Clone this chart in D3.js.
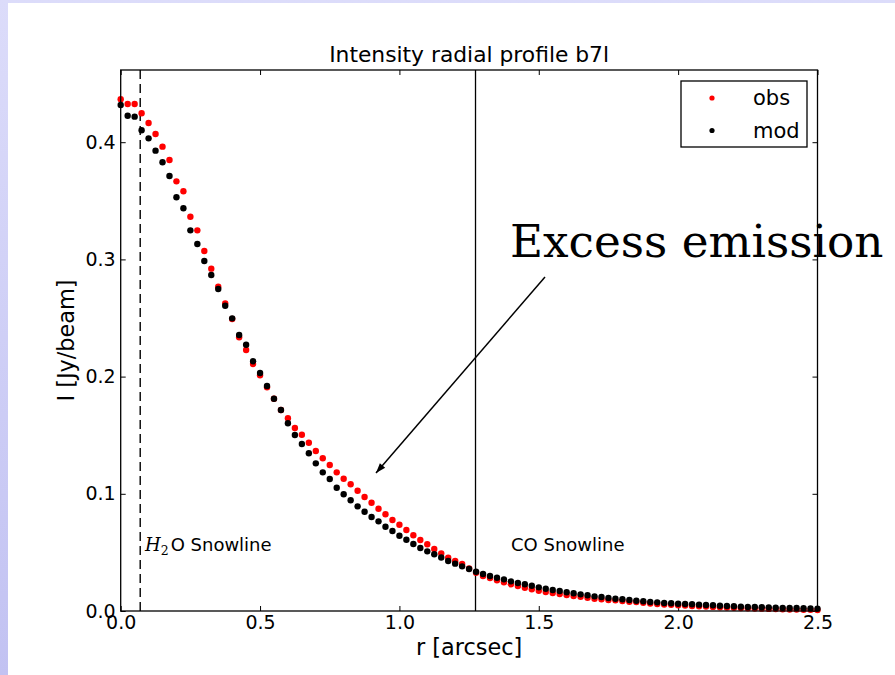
<!DOCTYPE html>
<html>
<head>
<meta charset="utf-8">
<script src="https://cdn.jsdelivr.net/npm/d3@7"></script>
<style>
  html, body { margin: 0; padding: 0; background: #fff; }
  svg { display: block; font-family: "DejaVu Sans", sans-serif; }
</style>
</head>
<body>
<svg id="chart" width="895" height="675"></svg>
<script>
// radius in arcsec, one point every 0.025
const radius = d3.range(101).map(i => +(i * 0.025).toFixed(3));

// observed profile (red)
const obs = [
  0.4366, 0.4326, 0.4326, 0.4247, 0.4164, 0.4070, 0.3962, 0.3848, 0.3666, 0.3581,
  0.3364, 0.3248, 0.3072, 0.2921, 0.2767, 0.2625, 0.2491, 0.2335, 0.2227, 0.2108,
  0.2011, 0.1909, 0.1811, 0.1715, 0.1644, 0.1561, 0.1504, 0.1436, 0.1365, 0.1303,
  0.1246, 0.1183, 0.1129, 0.1081, 0.1026, 0.0973, 0.0924, 0.0873, 0.0825, 0.0776,
  0.0736, 0.0691, 0.0646, 0.0606, 0.0569, 0.0529, 0.0492, 0.0455, 0.0427, 0.0401,
  0.0363, 0.0327, 0.0299, 0.0282, 0.0262, 0.0245, 0.0228, 0.0213, 0.0199, 0.0185,
  0.0173, 0.0162, 0.0154, 0.0145, 0.0137, 0.0128, 0.0122, 0.0113, 0.0105, 0.0100,
  0.0094, 0.0091, 0.0085, 0.0079, 0.0077, 0.0071, 0.0064, 0.0060, 0.0056, 0.0053,
  0.0049, 0.0046, 0.0043, 0.0040, 0.0038, 0.0035, 0.0032, 0.0030, 0.0027, 0.0026,
  0.0023, 0.0021, 0.0020, 0.0018, 0.0016, 0.0015, 0.0013, 0.0012, 0.0011, 0.0010,
  0.0009
];

// model profile (black)
const mod = [
  0.4317, 0.4226, 0.4218, 0.4102, 0.4033, 0.3928, 0.3829, 0.3712, 0.3530, 0.3436,
  0.3248, 0.3131, 0.2986, 0.2867, 0.2747, 0.2605, 0.2497, 0.2355, 0.2272, 0.2131,
  0.2031, 0.1920, 0.1811, 0.1715, 0.1602, 0.1502, 0.1425, 0.1346, 0.1260, 0.1183,
  0.1126, 0.1052, 0.0996, 0.0945, 0.0893, 0.0847, 0.0802, 0.0765, 0.0719, 0.0683,
  0.0642, 0.0608, 0.0572, 0.0538, 0.0509, 0.0484, 0.0456, 0.0427, 0.0404, 0.0381,
  0.0358, 0.0335, 0.0316, 0.0299, 0.0284, 0.0270, 0.0253, 0.0239, 0.0228, 0.0216,
  0.0202, 0.0190, 0.0179, 0.0171, 0.0160, 0.0151, 0.0142, 0.0134, 0.0125, 0.0119,
  0.0111, 0.0105, 0.0100, 0.0094, 0.0088, 0.0083, 0.0077, 0.0074, 0.0068, 0.0066,
  0.0062, 0.0060, 0.0057, 0.0054, 0.0051, 0.0049, 0.0045, 0.0043, 0.0040, 0.0037,
  0.0035, 0.0034, 0.0032, 0.0031, 0.0028, 0.0027, 0.0026, 0.0025, 0.0023, 0.0022,
  0.0020
];

const xTicks = [0.0, 0.5, 1.0, 1.5, 2.0, 2.5];
const yTicks = [0.0, 0.1, 0.2, 0.3, 0.4];
const snowH2O = 0.07;   // arcsec
const snowCO = 1.273;   // arcsec
const seriesNames = ["obs", "mod"];
const seriesColors = ["#ff0000", "#000000"];

const svg = d3.select("#chart");

// lavender slide border
const defs = svg.append("defs");
const grad = defs.append("linearGradient")
    .attr("id", "bg").attr("x1", 0).attr("y1", 0).attr("x2", 0).attr("y2", 1);
grad.append("stop").attr("offset", 0).attr("stop-color", "#dcdcfa");
grad.append("stop").attr("offset", 1).attr("stop-color", "#c2c2f2");
svg.append("rect").attr("width", 895).attr("height", 675).attr("fill", "url(#bg)");
svg.append("rect").attr("x", 8).attr("y", 3).attr("width", 887).attr("height", 672).attr("fill", "#fff");

const pLeft = 120.7, pRight = 817.5, pTop = 70, pBottom = 611;
const x = d3.scaleLinear([0, 2.5], [pLeft, pRight]);
const y = d3.scaleLinear([0, 0.4616], [pBottom, pTop]);

// ticks, matplotlib style (inside, all four sides)
svg.append("g")
    .attr("transform", `translate(0,${pBottom})`)
    .call(d3.axisBottom(x).tickValues(xTicks).tickFormat(d3.format(".1f")).tickSizeInner(-5).tickSizeOuter(0).tickPadding(5))
    .call(g => g.select(".domain").remove())
    .call(g => g.selectAll("text").style("font-size", "19px").style("font-family", "DejaVu Sans").attr("fill", "#000"));

svg.append("g")
    .attr("transform", `translate(${pLeft},0)`)
    .call(d3.axisLeft(y).tickValues(yTicks).tickFormat(d3.format(".1f")).tickSizeInner(-5).tickSizeOuter(0).tickPadding(5))
    .call(g => g.select(".domain").remove())
    .call(g => g.selectAll("text").style("font-size", "19px").style("font-family", "DejaVu Sans").attr("fill", "#000"));

svg.append("g")
    .attr("transform", `translate(0,${pTop})`)
    .call(d3.axisTop(x).tickValues(xTicks).tickFormat("").tickSizeInner(-5).tickSizeOuter(0))
    .call(g => g.select(".domain").remove());

svg.append("g")
    .attr("transform", `translate(${pRight},0)`)
    .call(d3.axisRight(y).tickValues(yTicks).tickFormat("").tickSizeInner(-5).tickSizeOuter(0))
    .call(g => g.select(".domain").remove());

// snowlines
svg.append("line")
    .attr("x1", x(snowH2O)).attr("x2", x(snowH2O))
    .attr("y1", pTop).attr("y2", pBottom)
    .attr("stroke", "#000").attr("stroke-width", 1.4)
    .attr("stroke-dasharray", "9,5");

svg.append("line")
    .attr("x1", x(snowCO)).attr("x2", x(snowCO))
    .attr("y1", pTop).attr("y2", pBottom)
    .attr("stroke", "#000").attr("stroke-width", 1.3);

// data points
const series = [obs, mod];
series.forEach((vals, k) => {
    svg.append("g")
        .attr("fill", seriesColors[k])
        .selectAll("circle")
        .data(vals)
        .join("circle")
        .attr("cx", (d, i) => x(radius[i]))
        .attr("cy", d => y(d))
        .attr("r", 3.2);
});

// frame
svg.append("rect")
    .attr("x", pLeft).attr("y", pTop)
    .attr("width", pRight - pLeft).attr("height", pBottom - pTop)
    .attr("fill", "none").attr("stroke", "#000").attr("stroke-width", 1.3);

// labels
svg.append("text")
    .attr("x", (pLeft + pRight) / 2).attr("y", 62)
    .attr("text-anchor", "middle").style("font-size", "21.8px")
    .text("Intensity radial profile b7l");

svg.append("text")
    .attr("x", (pLeft + pRight) / 2).attr("y", 655)
    .attr("text-anchor", "middle").style("font-size", "22.4px")
    .text("r [arcsec]");

svg.append("text")
    .attr("transform", `translate(74,${(pTop + pBottom) / 2}) rotate(-90)`)
    .attr("text-anchor", "middle").style("font-size", "22.4px")
    .text("I [Jy/beam]");

// snowline labels
const h2o = svg.append("text").attr("x", 145).attr("y", 551).style("font-size", "18px");
h2o.append("tspan").style("font-family", "DejaVu Serif").style("font-style", "italic").text("H");
h2o.append("tspan").style("font-family", "DejaVu Serif").style("font-size", "12.5px").attr("dy", 4).text("2");
h2o.append("tspan").attr("dy", -4).attr("dx", 2).text("O Snowline");

svg.append("text")
    .attr("x", 511).attr("y", 551).style("font-size", "18px")
    .text("CO Snowline");

// legend
const legend = svg.append("g");
legend.append("rect")
    .attr("x", 681).attr("y", 81).attr("width", 126).attr("height", 66)
    .attr("fill", "#fff").attr("stroke", "#000").attr("stroke-width", 1.3);
seriesNames.forEach((name, k) => {
    legend.append("circle")
        .attr("cx", 712).attr("cy", 98 + k * 32.5).attr("r", 2.6)
        .attr("fill", seriesColors[k]);
    legend.append("text")
        .attr("x", 753).attr("y", 105 + k * 32.5).style("font-size", "21px")
        .text(name);
});

// annotation
svg.append("text")
    .attr("x", 510).attr("y", 257)
    .style("font-family", "DejaVu Serif").style("font-size", "45.3px")
    .text("Excess emission");

const ax0 = [545, 277], ax1 = [376, 473];
svg.append("line")
    .attr("x1", ax0[0]).attr("y1", ax0[1])
    .attr("x2", ax1[0]).attr("y2", ax1[1])
    .attr("stroke", "#000").attr("stroke-width", 1.5);
const ang = Math.atan2(ax1[1] - ax0[1], ax1[0] - ax0[0]);
const hl = 10, hw = 3.5;
const bx = ax1[0] - hl * Math.cos(ang), by = ax1[1] - hl * Math.sin(ang);
svg.append("path")
    .attr("d", d3.line()([
        [ax1[0], ax1[1]],
        [bx + hw * Math.sin(ang), by - hw * Math.cos(ang)],
        [bx - hw * Math.sin(ang), by + hw * Math.cos(ang)]
    ]) + "Z")
    .attr("fill", "#000");
</script>
</body>
</html>
